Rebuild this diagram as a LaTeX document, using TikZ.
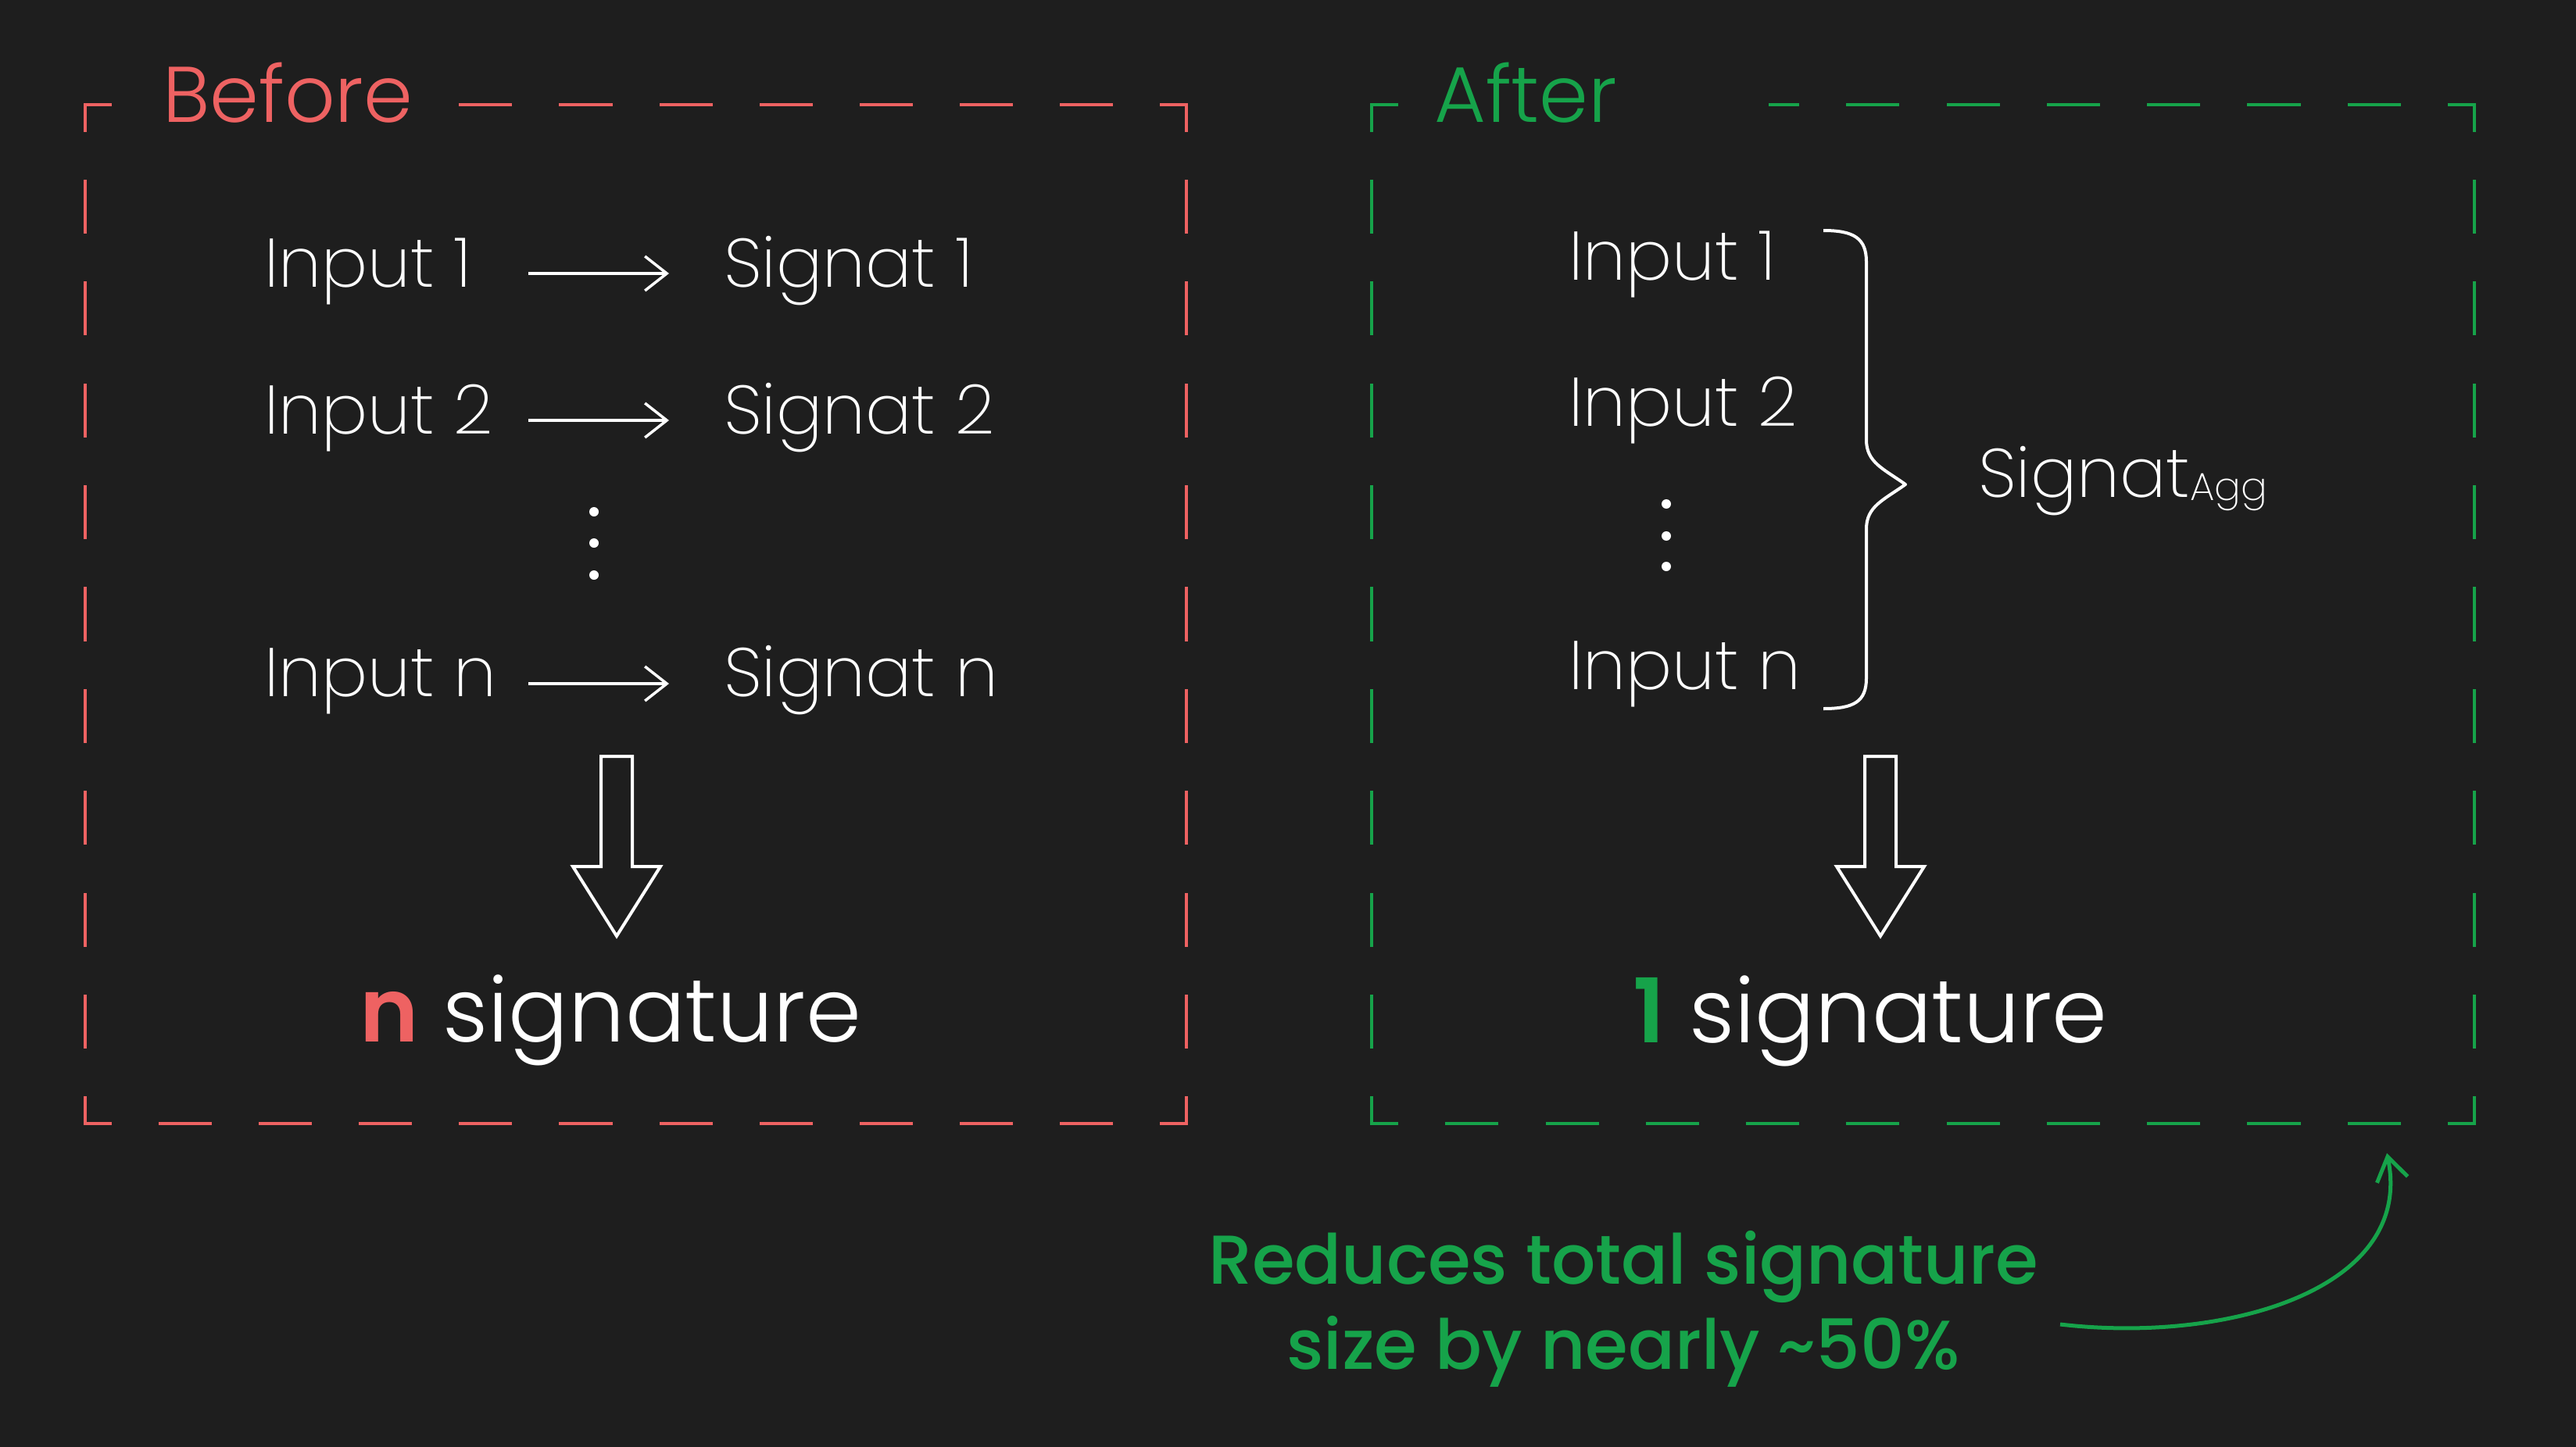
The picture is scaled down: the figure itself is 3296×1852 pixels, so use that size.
\documentclass[tikz,border=0pt]{standalone}
\usepackage{fontspec}
\setmainfont{Poppins}
\newfontfamily\xlightf{Poppins ExtraLight}
\newfontfamily\lightf{Poppins Light}
\newfontfamily\medf{Poppins Medium}
\newfontfamily\boldf{Poppins SemiBold}
\usetikzlibrary{arrows.meta}
\definecolor{bg}{HTML}{1E1E1E}
\definecolor{redc}{HTML}{EE6262}
\definecolor{greenc}{HTML}{16A34A}
\begin{document}
\begin{tikzpicture}[x=1pt,y=-1pt,
  hsideL/.style={line width=4pt, line cap=rect, dash pattern=on 64.05pt off 64.05pt, dash phase=32.02pt},
  hsideR/.style={line width=4pt, line cap=rect, dash pattern=on 64.14pt off 64.14pt, dash phase=32.07pt},
  vside/.style={line width=4pt, line cap=rect, dash pattern=on 65.2pt off 65.2pt, dash phase=32.6pt},
  title/.style={font=\lightf\fontsize{101}{115}\selectfont, fill=bg, inner xsep=35pt, inner ysep=10pt, anchor=base west},
  lbl/.style={font=\xlightf\fontsize{88}{105}\selectfont, text=white, inner sep=0pt, anchor=base west},
  thinarr/.style={white, line width=3.5pt, -{Straight Barb[length=28pt,width=44pt]}, shorten >=70pt},
  dot/.style={circle, fill=white, inner sep=0pt, minimum size=12pt},
  bigarr/.style={white, line width=4pt, line join=miter},
  sig/.style={font=\lightf\fontsize{114}{125}\selectfont, text=white, inner sep=0pt, anchor=base},
  note/.style={font=\medf\fontsize{88.5}{109}\selectfont, text=greenc, inner sep=0pt, anchor=base}
]
\useasboundingbox (0,0) rectangle (3296,1852);
\fill[bg] (0,0) rectangle (3296,1852);

% ---------- Before box ----------
\draw[redc, hsideL] (109,134) -- (1518,134);
\draw[redc, hsideL] (109,1438) -- (1518,1438);
\draw[redc, vside] (109,134) -- (109,1438);
\draw[redc, vside] (1518,134) -- (1518,1438);
\node[title, text=redc] (before) at (173,156) {Before};

\node[lbl] (in1) at (338,367) {Input 1};
\node[lbl] (in2) at (338,555) {Input 2};
\node[lbl] (inn) at (338,891) {Input n};
\node[lbl] (s1) at (926,367) {Signat 1};
\node[lbl] (s2) at (926,555) {Signat 2};
\node[lbl] (sn) at (926,891) {Signat n};
\coordinate (a1) at (676,350);
\coordinate (a2) at (676,538);
\coordinate (an) at (676,875);
\draw[thinarr] (a1) -- (a1 -| s1.west);
\draw[thinarr] (a2) -- (a2 -| s2.west);
\draw[thinarr] (an) -- (an -| sn.west);
\node[dot] (ld1) at (760,655) {};
\node[dot] (ld2) at (760,695) {};
\node[dot] (ld3) at (760,736) {};

\draw[bigarr] (769,968) -- (809,968) -- (809,1109) -- (845,1109) -- (789,1198) -- (733,1109) -- (769,1109) -- cycle;
\node[sig] (nsig) at (781,1333) {{\boldf\color{redc}n} signature};

% ---------- After box ----------
\draw[greenc, hsideR] (1755,134) -- (3166,134);
\draw[greenc, hsideR] (1755,1438) -- (3166,1438);
\draw[greenc, vside] (1755,134) -- (1755,1438);
\draw[greenc, vside] (3166,134) -- (3166,1438);
\node[title, text=greenc, text width=393pt, align=left] (after) at (1800,156) {After};

\node[lbl] (r1) at (2007,358) {Input 1};
\node[lbl] (r2) at (2007,545) {Input 2};
\node[lbl] (rn) at (2007,882) {Input n};
\node[dot] (rd1) at (2132,645) {};
\node[dot] (rd2) at (2132,686) {};
\node[dot] (rd3) at (2132,725) {};

\draw[white, line width=4pt, line join=round]
  (2333,295) .. controls (2372,295) and (2388,305) .. (2388,335)
  -- (2388,563) .. controls (2388,592) and (2410,600) .. (2438,620)
  .. controls (2410,640) and (2388,648) .. (2388,677)
  -- (2388,868) .. controls (2388,898) and (2372,907) .. (2333,907);
\node[lbl] (agg) at (2531,636) {Signat{\fontsize{50}{60}\selectfont\raisebox{-4pt}{Agg}}};

\draw[bigarr] (2386,968) -- (2426,968) -- (2426,1109) -- (2462,1109) -- (2406,1198) -- (2350,1109) -- (2386,1109) -- cycle;
\node[sig] (onesig) at (2393,1334) {{\boldf\color{greenc}1} signature};

% ---------- note ----------
\node[note] (note1) at (2077,1643) {Reduces total signature};
\node[note] (note2) at (2077,1752) {size by nearly \textasciitilde50\%};
\coordinate (cstart) at (2636,1695);
\coordinate (ctip) at (3054,1476);
\draw[greenc, line width=5pt, -{Straight Barb[length=30pt,width=40pt]}]
  (cstart) .. controls (2850,1720) and (3090,1650) .. (ctip);
\end{tikzpicture}
\end{document}
